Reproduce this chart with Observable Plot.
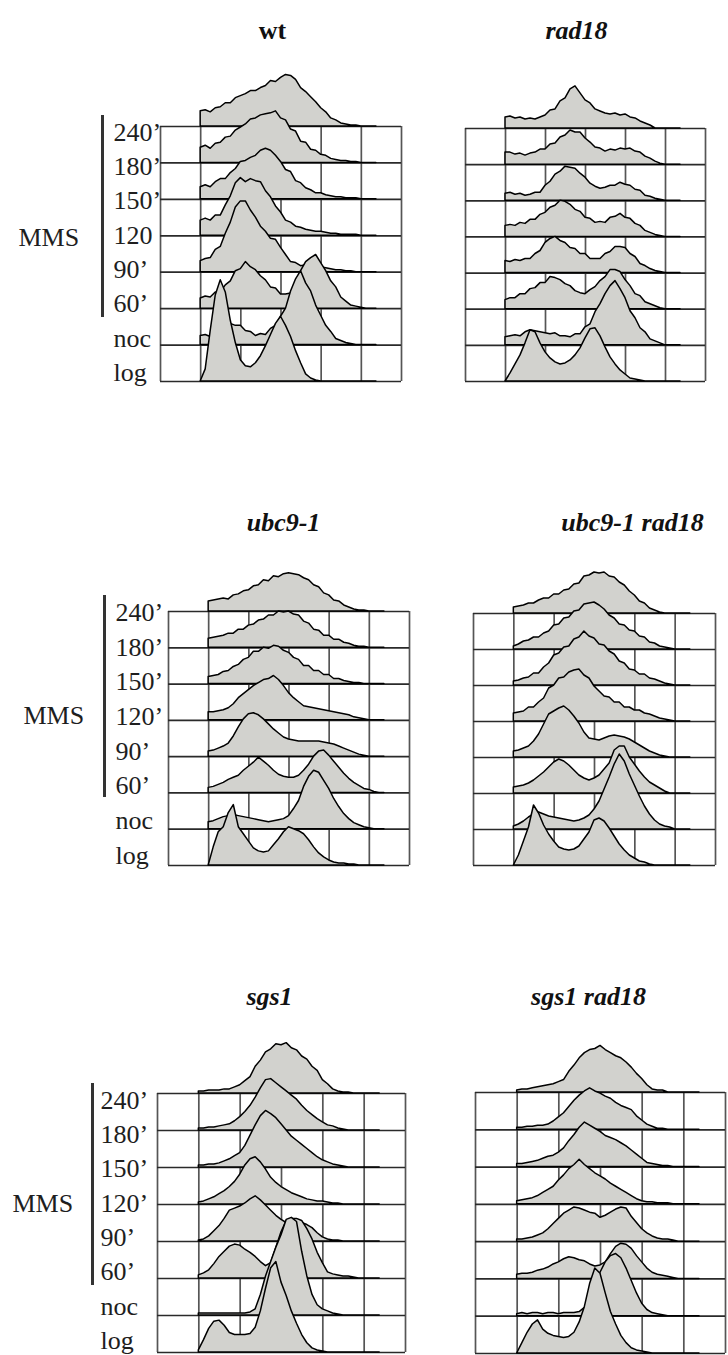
<!DOCTYPE html>
<html>
<head>
<meta charset="utf-8">
<script src="https://cdn.jsdelivr.net/npm/d3@7"></script>
<script src="https://cdn.jsdelivr.net/npm/@observablehq/plot@0.6"></script>
<style>
html, body { margin: 0; padding: 0; background: #fff; }
#page { position: relative; width: 728px; height: 1355px; overflow: hidden; background: #fff; font-family: "Liberation Serif", serif; }
#page svg { position: absolute; font-family: "Liberation Serif", serif; }
</style>
</head>
<body>
<div id="page"></div>
<script>
// ---- DNA content channel (x) sampled every 5 units ----
const channel = [40,45,50,55,60,65,70,75,80,85,90,95,100,105,110,115,120,125,130,135,140,145,150,155,160,165,170,175,180,185,190,195,200,205,210,215];
const gridColumns = [0,40,80,120,160,200,240];
const rowLabels = ["240’","180’","150’","120’","90’","60’","noc","log"];
const wtRowLabels = ["240’","180’","150’","120","90’","60’","noc","log"];
const titles = ["wt","rad18","ubc9-1","ubc9-1 rad18","sgs1","sgs1 rad18"];
const groupLabel = "MMS";

// ---- wt ----
const wt_240 = [15,16,14,18,19,23, 23,28,30,32,35,35, 38,40,45,44,48,51, 50,46,38,34,29,24, 18,14,8,6,3,2, 1,1,0,0,0,0];
const wt_180 = [15,17,14,19,20,25, 26,32,35,38,43,44, 47,48,49,51,44,42, 33,31,21,20,13,12, 8,7,4,3,2,2, 1,1,0,0,0,0];
const wt_150 = [12,14,12,17,20,20, 26,30,37,38,41,43, 48,50,48,43,37,29, 27,18,16,11,9,6, 6,4,3,2,2,1, 1,1,0,0,0,0];
const wt_120 = [15,17,15,20,20,30, 39,52,57,53,56,54, 53,44,38,29,23,15, 13,9,8,6,5,4, 4,3,2,2,1,1, 1,1,0,0,0,0];
const wt_90  = [11,13,14,22,25,38, 49,64,70,70,61,54, 45,40,33,32,24,17, 10,9,6,7,6,6, 5,4,3,2,2,1, 1,0,0,0,0,0];
const wt_60  = [10,12,11,16,16,23, 27,37,39,46,41,38, 32,28,21,20,14,14, 15,26,37,46,50,53, 45,37,27,21,11,7, 3,2,1,0,0,0];
const wt_noc = [9,10,8,9,8,15, 21,19,19,14,13,9, 11,10,16,19,28,36, 53,65,73,61,53,39, 29,19,13,6,4,2, 1,0,0,0,0,0];
const wt_log = [0,12,50,85,100,88, 60,38,21,15,14,18, 25,35,46,57,64,55, 44,30,18,7,3,1, 0,0,0,0,0,0, 0,0,0,0,0,0];

// ---- rad18 ----
const rad18_240 = [11,12,10,11,9,10, 9,11,13,18,19,27, 30,39,42,35,28,25, 19,17,15,14,15,13, 14,11,10,7,5,3, 0,0,0,0,0,0];
const rad18_180 = [12,12,10,11,9,11, 12,15,15,20,21,27, 29,34,32,32,26,22, 17,16,13,15,14,16, 15,16,13,12,8,6, 3,1,0,0,0,0];
const rad18_150 = [7,8,6,7,5,6, 8,8,15,19,26,29, 34,33,32,27,23,17, 14,12,13,15,15,18, 16,15,11,10,5,4, 2,1,0,0,0,0];
const rad18_120 = [11,12,11,14,13,17, 17,22,24,29,31,36, 35,32,27,25,19,18, 14,15,14,19,20,23, 19,18,13,11,6,4, 2,1,0,0,0,0];
const rad18_90  = [12,11,13,12,14,14, 19,22,30,34,36,32, 30,25,24,19,19,14, 14,14,19,21,26,26, 25,19,16,9,7,4, 2,1,0,0,0,0];
const rad18_60  = [9,11,11,15,15,20, 21,26,26,32,31,29, 25,23,18,16,15,19, 22,28,32,39,39,37, 29,23,15,13,7,5, 3,1,0,0,0,0];
const rad18_noc = [8,9,10,9,13,15, 14,13,12,11,12,9, 9,8,11,11,18,21, 33,41,51,59,64,56, 47,34,27,17,13,6, 4,2,0,0,0,0];
const rad18_log = [0,8,17,26,38,51, 49,38,29,23,19,17, 18,21,26,33,43,52, 53,45,34,24,17,11, 7,3,2,1,0,0, 0,0,0,0,0,0];

// ---- ubc9-1 ----
const ubc_240 = [10,11,12,13,12,16, 17,20,21,25,26,31, 30,35,34,37,38,37, 36,33,31,26,24,18, 16,11,10,6,4,2, 1,1,0,0,0,0];
const ubc_180 = [9,10,11,12,14,14, 18,18,22,23,27,28, 32,32,36,35,36,33, 32,26,24,18,17,12, 12,8,8,5,4,2, 1,1,0,0,0,0];
const ubc_150 = [7,8,9,12,13,17, 19,24,26,32,32,36, 35,38,37,33,31,26, 24,18,18,13,13,9, 9,5,5,3,2,1, 1,0,0,0,0,0];
const ubc_120 = [8,8,9,10,12,16, 22,26,30,34,37,40, 41,44,40,34,27,22, 18,14,13,12,11,10, 9,8,7,6,5,3, 2,1,0,0,0,0];
const ubc_90  = [5,6,8,10,13,20, 29,37,42,43,41,37, 32,27,23,19,17,16, 15,15,15,15,15,14, 13,12,10,8,6,4, 2,1,0,0,0,0];
const ubc_60  = [5,6,8,10,13,15, 17,22,26,30,35,31, 27,22,18,16,15,15, 17,22,28,36,41,42, 37,31,25,19,14,10, 7,4,3,1,0,0];
const ubc_noc = [7,8,10,12,13,14, 13,12,11,10,9,8, 7,8,9,10,13,20, 28,42,52,58,56,48, 40,30,22,15,10,6, 4,2,1,0,0,0];
const ubc_log = [0,18,33,38,52,60, 38,31,24,17,14,13, 14,20,26,33,38,36, 34,31,25,18,12,8, 5,3,2,2,1,1, 0,0,0,0,0,0];

// ---- ubc9-1 rad18 ----
const ubcR_240 = [6,7,8,10,10,13, 15,15,19,19,23,24, 29,30,37,38,41,40, 41,37,36,31,28,22, 18,12,10,5,3,1, 0,0,0,0,0,0];
const ubcR_180 = [3,5,8,9,12,12, 16,18,24,25,31,32, 38,39,45,46,47,44, 40,34,31,25,24,19, 18,13,12,7,6,3, 2,1,0,0,0,0];
const ubcR_150 = [4,5,7,8,12,12, 18,22,30,32,38,39, 46,48,54,49,47,41, 40,34,31,24,22,16, 15,11,11,7,6,4, 2,1,0,0,0,0];
const ubcR_120 = [8,9,10,14,14,19, 23,33,36,43,44,49, 51,52,46,43,35,30, 25,24,19,19,14,14, 11,11,8,7,5,3, 2,1,0,0,0,0];
const ubcR_90  = [6,7,9,11,16,23, 33,43,46,49,51,47, 41,34,25,19,18,17, 19,21,22,21,20,18, 15,12,9,6,4,2, 1,0,0,0,0,0];
const ubcR_60  = [6,7,8,10,13,17, 21,26,31,34,32,28, 23,18,15,13,15,18, 24,30,43,47,47,36, 29,22,16,11,8,5, 2,0,0,0,0,0];
const ubcR_noc = [3,5,8,12,15,17, 15,13,12,11,10,9, 8,9,11,14,20,28, 40,52,65,75,68,55, 44,33,23,15,9,5, 3,2,0,0,0,0];
const ubcR_log = [0,10,24,38,60,52, 40,31,24,18,16,15, 16,19,26,33,45,47, 44,37,29,21,15,10, 7,4,3,1,0,0, 0,0,0,0,0,0];

// ---- sgs1 ----
const sgs_240 = [2,2,3,3,3,4, 4,6,8,12,16,26, 32,40,43,48,47,49, 44,42,36,33,26,22, 13,9,4,2,1,1, 0,0,0,0,0,0];
const sgs_180 = [2,2,3,3,4,5, 6,9,13,18,24,32, 41,49,50,46,42,38, 34,30,24,19,15,11, 8,5,4,2,1,0, 0,0,0,0,0,0];
const sgs_150 = [2,2,3,3,4,6, 8,11,14,21,31,41, 50,55,52,48,42,36, 30,26,22,18,14,10, 7,5,3,2,1,0, 0,0,0,0,0,0];
const sgs_120 = [2,3,5,7,10,13, 17,22,29,38,44,46, 41,34,26,21,17,14, 11,9,7,5,4,3, 3,2,1,1,0,0, 0,0,0,0,0,0];
const sgs_90  = [1,2,5,10,15,22, 30,32,34,37,41,44, 40,35,30,25,21,18, 19,20,18,16,13,8, 4,2,1,1,0,0, 0,0,0,0,0,0];
const sgs_60  = [3,5,8,14,21,26, 31,33,32,28,25,21, 16,12,15,30,45,56, 58,58,56,48,38,25, 15,6,4,3,2,2, 1,0,0,0,0,0];
const sgs_noc = [2,2,2,2,2,2, 2,2,2,2,3,6, 20,38,52,66,78,93, 95,91,62,38,20,10, 6,4,2,1,0,0, 0,0,0,0,0,0];
const sgs_log = [2,12,23,30,31,26, 19,17,17,17,18,24, 40,62,82,88,68,55, 40,28,17,9,4,2, 1,0,0,0,0,0, 0,0,0,0,0,0];

// ---- sgs1 rad18 ----
const sgsR_240 = [2,3,3,4,5,6, 7,8,10,12,20,26, 33,38,41,42,45,41, 38,35,33,29,24,18, 13,7,3,2,2,0, 0,0,0,0,0,0];
const sgsR_180 = [2,2,3,3,4,4, 5,8,12,16,22,28, 33,37,40,37,35,32, 30,26,23,21,19,13, 9,5,3,1,1,0, 0,0,0,0,0,0];
const sgsR_150 = [3,3,4,5,6,8, 10,11,14,18,25,31, 38,43,40,37,34,30, 28,26,23,20,16,12, 8,4,3,2,1,1, 0,0,0,0,0,0];
const sgsR_120 = [3,4,5,6,8,11, 14,17,23,28,34,38, 43,38,34,30,27,24, 20,17,14,11,8,5, 3,2,2,1,1,1, 0,0,0,0,0,0];
const sgsR_90  = [2,2,3,4,6,8, 12,17,22,27,30,33, 32,30,28,27,23,25, 28,31,33,32,24,18, 12,8,5,3,2,2, 1,0,0,0,0,0];
const sgsR_60  = [4,5,5,6,8,9, 11,14,16,19,21,20, 18,17,14,12,13,16, 24,31,34,33,29,22, 16,10,6,4,3,2, 1,0,0,0,0,0];
const sgsR_noc = [2,3,2,3,3,2, 3,3,2,3,3,3, 4,8,18,30,42,52, 58,60,56,46,34,22, 12,6,3,2,1,0, 0,0,0,0,0,0];
const sgsR_log = [0,10,20,28,32,23, 19,17,16,15,16,20, 30,45,67,82,77,58, 40,28,17,10,5,3, 2,1,0,0,0,0, 0,0,0,0,0,0];

// ---- layout ----
const ROW = 36, NROW = 7, XMAX = 240;
const SERIF = "Liberation Serif";
const FILL = "#d2d2ce";
const page = document.getElementById("page");

function drawPanel(p) {
  const mL = p.gridLeft - p.svgLeft, mT = p.gridTop - p.svgTop;
  const mR = p.svgLeft + p.svgW - (p.gridLeft + p.gridW);
  const mB = p.svgTop + p.svgH - (p.gridTop + p.gridH);
  const ux = px => px * XMAX / p.gridW;
  const uy = py => ROW * NROW - py * ROW * NROW / p.gridH;
  const marks = [];
  if (p.labels) {
    marks.push(Plot.text(p.labels.map((t, i) => ({t, x: ux(p.labelDx), y: uy(p.labelY0 + i * p.labelStep)})),
      {x: "x", y: "y", text: "t", textAnchor: "start", lineAnchor: "middle", fontSize: 26, fontFamily: SERIF, fill: "#1e1e1e"}));
    marks.push(Plot.text([{t: groupLabel, x: ux(p.mmsDx), y: uy(p.mmsDy)}],
      {x: "x", y: "y", text: "t", textAnchor: "start", lineAnchor: "middle", fontSize: 26, fontFamily: SERIF, fill: "#1e1e1e"}));
    marks.push(Plot.ruleX([{x: ux(p.barDx), y1: uy(p.barDy1), y2: uy(p.barDy2)}],
      {x: "x", y1: "y1", y2: "y2", stroke: "#333", strokeWidth: 3}));
  }
  marks.push(Plot.text([{t: p.title, x: ux(p.titleDx), y: uy(p.titleDy)}],
    {x: "x", y: "y", text: "t", textAnchor: "middle", lineAnchor: "bottom", fontSize: 26, fontWeight: "bold",
     fontStyle: p.italic ? "italic" : "normal", fontFamily: SERIF, fill: "#111"}));
  marks.push(Plot.ruleX(gridColumns, {stroke: "#555", strokeWidth: 1.7}));
  marks.push(Plot.ruleY(d3.range(NROW + 1).map(i => i * ROW), {stroke: "#2a2a2a", strokeWidth: 1.7}));
  p.series.forEach((vals, k) => {
    const base = (NROW - k) * ROW;
    const pts = channel.map((c, j) => ({c, lo: base, hi: base + vals[j]}));
    marks.push(Plot.areaY(pts, {x: "c", y1: "lo", y2: "hi", fill: FILL, stroke: "#000", strokeWidth: 1.5, strokeLinejoin: "round"}));
  });
  const svg = Plot.plot({
    width: p.svgW, height: p.svgH,
    marginLeft: mL, marginRight: mR, marginTop: mT, marginBottom: mB,
    x: {domain: [0, XMAX], axis: null},
    y: {domain: [0, ROW * NROW], axis: null},
    style: {background: "transparent", overflow: "visible", fontFamily: SERIF},
    marks
  });
  svg.style.position = "absolute";
  svg.style.left = p.svgLeft + "px";
  svg.style.top = p.svgTop + "px";
  svg.style.overflow = "visible";
  page.appendChild(svg);
}

const panels = [
  {title: titles[0], italic: false, series: [wt_240, wt_180, wt_150, wt_120, wt_90, wt_60, wt_noc, wt_log],
   svgLeft: 0, svgTop: 0, svgW: 440, svgH: 400, gridLeft: 160, gridTop: 126, gridW: 241, gridH: 255,
   titleDx: 112, titleDy: -88,
   labels: wtRowLabels, labelDx: -47, labelY0: 6, labelStep: 34.3, mmsDx: -142, mmsDy: 111, barDx: -58, barDy1: -11, barDy2: 191},
  {title: titles[1], italic: true, series: [rad18_240, rad18_180, rad18_150, rad18_120, rad18_90, rad18_60, rad18_noc, rad18_log],
   svgLeft: 440, svgTop: 0, svgW: 288, svgH: 400, gridLeft: 465, gridTop: 128, gridW: 240, gridH: 253,
   titleDx: 111, titleDy: -90},
  {title: titles[2], italic: true, series: [ubc_240, ubc_180, ubc_150, ubc_120, ubc_90, ubc_60, ubc_noc, ubc_log],
   svgLeft: 0, svgTop: 470, svgW: 440, svgH: 420, gridLeft: 168, gridTop: 611, gridW: 241, gridH: 254,
   titleDx: 115, titleDy: -81,
   labels: rowLabels, labelDx: -53, labelY0: 1, labelStep: 34.7, mmsDx: -145, mmsDy: 104, barDx: -64, barDy1: -16, barDy2: 186},
  {title: titles[3], italic: true, series: [ubcR_240, ubcR_180, ubcR_150, ubcR_120, ubcR_90, ubcR_60, ubcR_noc, ubcR_log],
   svgLeft: 440, svgTop: 470, svgW: 288, svgH: 420, gridLeft: 473, gridTop: 613, gridW: 242, gridH: 252,
   titleDx: 159, titleDy: -83},
  {title: titles[4], italic: true, series: [sgs_240, sgs_180, sgs_150, sgs_120, sgs_90, sgs_60, sgs_noc, sgs_log],
   svgLeft: 0, svgTop: 940, svgW: 440, svgH: 415, gridLeft: 157, gridTop: 1093, gridW: 248, gridH: 259,
   titleDx: 112, titleDy: -89,
   labels: rowLabels, labelDx: -57, labelY0: 7, labelStep: 34.3, mmsDx: -145, mmsDy: 110, barDx: -65, barDy1: -10, barDy2: 192},
  {title: titles[5], italic: true, series: [sgsR_240, sgsR_180, sgsR_150, sgsR_120, sgsR_90, sgsR_60, sgsR_noc, sgsR_log],
   svgLeft: 440, svgTop: 940, svgW: 288, svgH: 415, gridLeft: 475, gridTop: 1092, gridW: 250, gridH: 261,
   titleDx: 113, titleDy: -88}
];
panels.forEach(drawPanel);
</script>
</body>
</html>
